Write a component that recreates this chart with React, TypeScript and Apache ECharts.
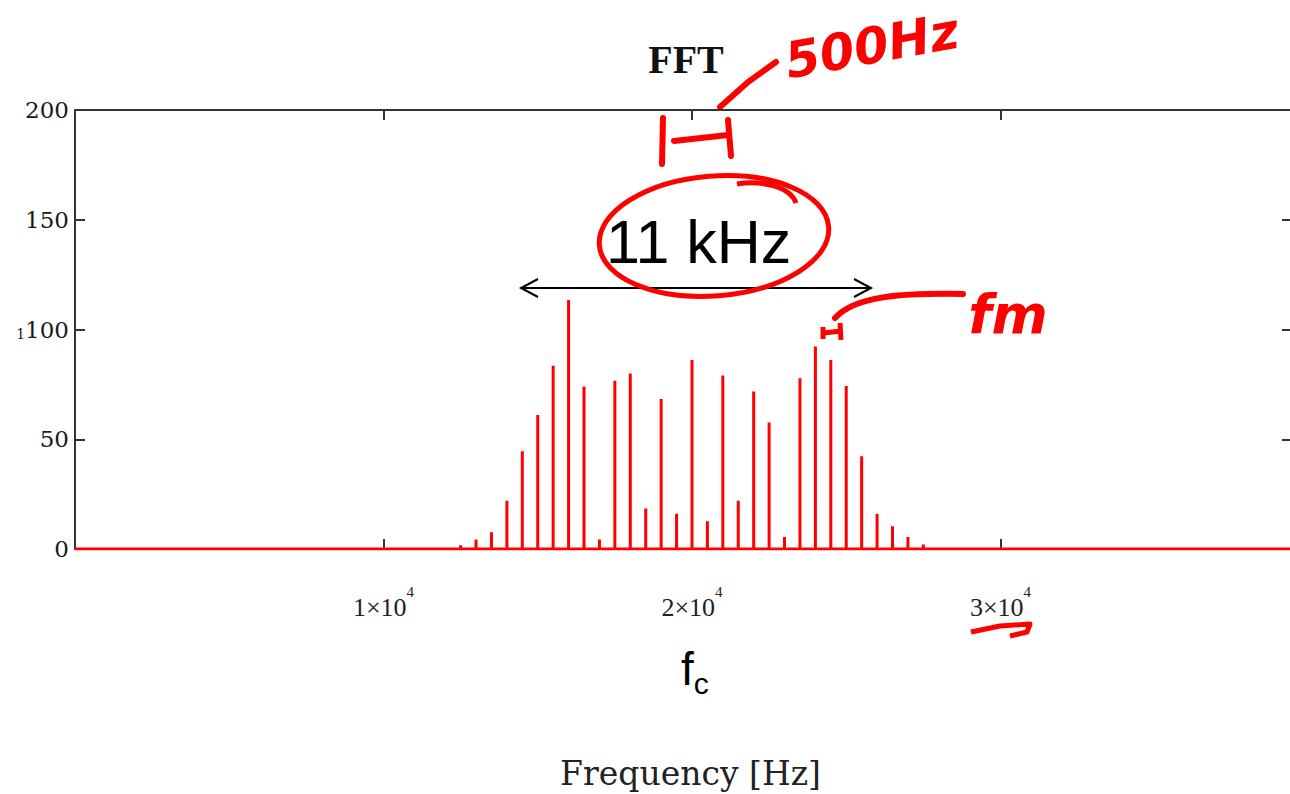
import React, { useEffect, useRef } from "react";
import * as echarts from "echarts";

// Spectral line frequencies (Hz) and magnitudes
const freqs = [
  12500, 13000, 13500, 14000, 14500, 15000, 15500, 16000, 16500, 17000, 17500,
  18000, 18500, 19000, 19500, 20000, 20500, 21000, 21500, 22000, 22500, 23000,
  23500, 24000, 24500, 25000, 25500, 26000, 26500, 27000, 27500,
];
const amps = [
  1.7, 4.3, 7.6, 22, 44.5, 61, 83.5, 113.4, 74, 4.3, 76.6, 80, 18.5, 68.3, 16.1,
  86.1, 12.6, 79, 22, 71.7, 57.6, 5.5, 77.8, 92.2, 86.1, 74.3, 42.2, 16, 10.4,
  5.5, 2,
];
const xRange = [0, 39450];
const yRange = [0, 200];
const xTickValues = [10000, 20000, 30000];
const yTickValues = [0, 50, 100, 150, 200];
const titleText = "FFT";
const xName = "Frequency [Hz]";

export default function App() {
  const ref = useRef<HTMLDivElement>(null);
  useEffect(() => {
    if (!ref.current) return;
    const chart = echarts.init(ref.current, null, { renderer: "svg" });
    const data: number[][] = [[xRange[0], 0]];
    freqs.forEach((f, i) => {
      data.push([f, 0], [f, amps[i]], [f, 0]);
    });
    data.push([xRange[1], 0]);

    const axisColor = "#333";
    const red = "#ff0000";
    const xLabelFmt = (v: number) =>
      xTickValues.includes(v) ? `{b|${v / 10000}×10}{sup|4}` : "";
    const yLabelFmt = (v: number) =>
      yTickValues.includes(v) ? (v === 100 ? `{s|1}100` : `${v}`) : "";

    const frameAxis = {
      axisLine: { show: true, onZero: false, lineStyle: { color: axisColor, width: 2 } },
      axisTick: {
        show: true,
        inside: true,
        length: 10,
        lineStyle: { color: axisColor, width: 2 },
      },
      splitLine: { show: false },
    };

    chart.setOption({
      animation: false,
      backgroundColor: "#fff",
      title: {
        text: titleText,
        left: 681,
        top: 34,
        textAlign: "center",
        textStyle: {
          fontFamily: "Liberation Serif",
          fontWeight: "bold",
          fontSize: 40,
          color: "#111",
        },
      },
      grid: {
        left: 75,
        top: 110,
        width: 1217,
        height: 439,
        outerBoundsMode: "none",
        containLabel: false,
      },
      xAxis: [
        {
          type: "value",
          position: "bottom",
          min: xRange[0],
          max: xRange[1],
          interval: 10000,
          name: xName,
          nameLocation: "middle",
          nameGap: 208,
          nameTextStyle: {
            fontFamily: "DejaVu Serif",
            fontSize: 33,
            color: "#222",
            padding: [0, 0, 0, 14],
          },
          ...frameAxis,
          axisLabel: {
            margin: 35,
            formatter: xLabelFmt,
            rich: {
              b: {
                fontFamily: "Liberation Serif",
                fontSize: 26,
                color: "#222",
                verticalAlign: "bottom",
                padding: [10, 0, 0, 0],
              },
              sup: {
                fontFamily: "Liberation Serif",
                fontSize: 15,
                lineHeight: 15,
                color: "#222",
                verticalAlign: "top",
              },
            },
          },
        },
        {
          type: "value",
          position: "top",
          min: xRange[0],
          max: xRange[1],
          interval: 10000,
          ...frameAxis,
          axisLabel: { show: false },
        },
      ],
      yAxis: [
        {
          type: "value",
          position: "left",
          min: yRange[0],
          max: yRange[1],
          interval: 50,
          ...frameAxis,
          axisLabel: {
            margin: 6,
            formatter: yLabelFmt,
            fontFamily: "DejaVu Serif",
            fontSize: 23,
            color: "#1a1a1a",
            rich: {
              s: {
                fontFamily: "DejaVu Serif",
                fontSize: 14,
                color: "#1a1a1a",
                verticalAlign: "bottom",
              },
            },
          },
        },
        {
          type: "value",
          position: "right",
          min: yRange[0],
          max: yRange[1],
          interval: 50,
          ...frameAxis,
          axisLabel: { show: false },
        },
      ],
      series: [
        {
          type: "line",
          data,
          showSymbol: false,
          symbol: "none",
          lineStyle: { color: red, width: 3 },
          z: 5,
        },
      ],
      graphic: [
        // "11 kHz" label
        {
          type: "text",
          x: 606,
          y: 242,
          style: {
            text: "11 kHz",
            fontFamily: "Liberation Sans",
            fontSize: 61,
            fill: "#000",
            textVerticalAlign: "middle",
          },
        },
        // double arrow
        {
          type: "line",
          shape: { x1: 521, y1: 288, x2: 871, y2: 288 },
          style: { stroke: "#000", lineWidth: 2 },
        },
        {
          type: "polyline",
          shape: { points: [[538, 279], [521, 288], [538, 297]] },
          style: { stroke: "#000", lineWidth: 2, fill: null },
        },
        {
          type: "polyline",
          shape: { points: [[854, 279], [871, 288], [854, 297]] },
          style: { stroke: "#000", lineWidth: 2, fill: null },
        },
        // red loop around 11 kHz
        {
          type: "ellipse",
          x: 714,
          y: 236,
          rotation: 0.08,
          shape: { cx: 0, cy: 0, rx: 115, ry: 60 },
          style: { stroke: red, lineWidth: 5, fill: null },
        },
        {
          type: "bezierCurve",
          shape: { x1: 737, y1: 184, cpx1: 760, cpy1: 180, cpx2: 790, cpy2: 186, x2: 796, y2: 203 },
          style: { stroke: red, lineWidth: 5, fill: null },
        },
        // 500 Hz bracket
        {
          type: "line",
          shape: { x1: 663, y1: 118, x2: 662, y2: 164 },
          style: { stroke: red, lineWidth: 6, lineCap: "round" },
        },
        {
          type: "line",
          shape: { x1: 674, y1: 141, x2: 728, y2: 135 },
          style: { stroke: red, lineWidth: 6, lineCap: "round" },
        },
        {
          type: "line",
          shape: { x1: 728, y1: 120, x2: 731, y2: 156 },
          style: { stroke: red, lineWidth: 6, lineCap: "round" },
        },
        {
          type: "polyline",
          shape: { points: [[720, 107], [748, 82], [776, 62]] },
          style: { stroke: red, lineWidth: 6, lineCap: "round", fill: null },
        },
        {
          type: "text",
          x: 872,
          y: 46,
          rotation: 0.18,
          style: {
            text: "500Hz",
            fontFamily: "DejaVu Sans",
            fontWeight: "bold",
            fontStyle: "italic",
            fontSize: 50,
            fill: red,
            textAlign: "center",
            textVerticalAlign: "middle",
          },
        },
        // fm annotation
        {
          type: "line",
          shape: { x1: 823, y1: 327, x2: 823, y2: 339 },
          style: { stroke: red, lineWidth: 5 },
        },
        {
          type: "line",
          shape: { x1: 823, y1: 333, x2: 842, y2: 331 },
          style: { stroke: red, lineWidth: 5 },
        },
        {
          type: "line",
          shape: { x1: 840, y1: 323, x2: 841, y2: 340 },
          style: { stroke: red, lineWidth: 5 },
        },
        {
          type: "bezierCurve",
          shape: { x1: 835, y1: 318, cpx1: 855, cpy1: 296, cpx2: 900, cpy2: 293, x2: 963, y2: 294 },
          style: { stroke: red, lineWidth: 6, lineCap: "round", fill: null },
        },
        {
          type: "text",
          x: 1008,
          y: 314,
          style: {
            text: "fm",
            fontFamily: "DejaVu Sans",
            fontStyle: "italic",
            fontWeight: "bold",
            fontSize: 54,
            fill: red,
            textAlign: "center",
            textVerticalAlign: "middle",
          },
        },
        // fc label
        {
          type: "text",
          x: 681,
          y: 646,
          style: {
            text: "{f|f}{c|c}",
            rich: {
              f: { fontFamily: "Liberation Sans", fontSize: 46, fill: "#000", verticalAlign: "top" },
              c: { fontFamily: "Liberation Sans", fontSize: 30, fill: "#000", verticalAlign: "bottom", padding: [0, 0, -6, 0] },
            },
          },
        },
        // red mark under 3x10^4
        {
          type: "polyline",
          shape: { points: [[971, 632], [1000, 626], [1030, 624], [1027, 632], [1010, 636]] },
          style: { stroke: red, lineWidth: 5, lineJoin: "round", fill: null },
        },
      ],
    });
    return () => chart.dispose();
  }, []);
  return (
    <div
      ref={ref}
      style={{ position: "absolute", left: 0, top: 0, width: 1290, height: 794 }}
    />
  );
}
